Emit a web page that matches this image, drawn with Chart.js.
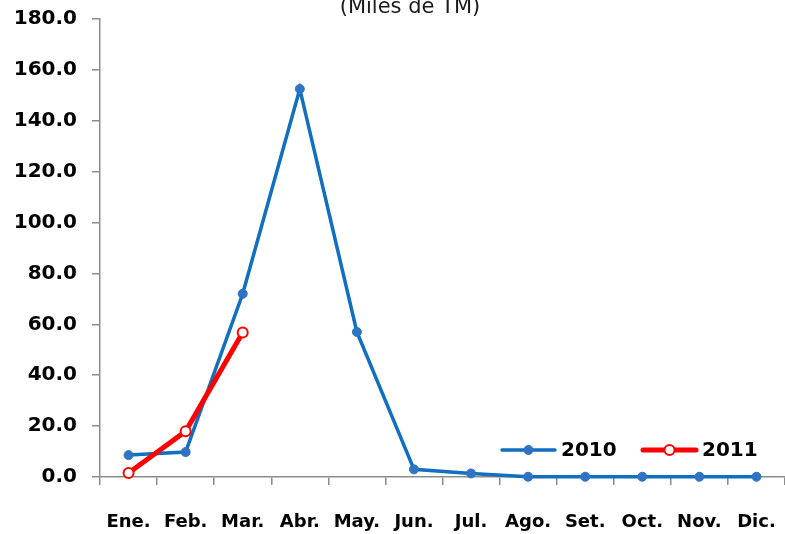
<!DOCTYPE html>
<html>
<head>
<meta charset="utf-8">
<script src="https://cdn.jsdelivr.net/npm/chart.js@4"></script>
<style>
  html, body { margin: 0; padding: 0; background: #ffffff; overflow: hidden; }
  #wrap { position: relative; width: 785px; height: 534px; overflow: hidden; }
  #c { position: absolute; left: 0; top: 0; }
</style>
</head>
<body>
<div id="wrap"><canvas id="c" width="792" height="534"></canvas></div>
<script>
const categories = ['Ene.', 'Feb.', 'Mar.', 'Abr.', 'May.', 'Jun.', 'Jul.', 'Ago.', 'Set.', 'Oct.', 'Nov.', 'Dic.'];
const series2010 = [8.6, 9.8, 72.0, 152.5, 57.0, 3.0, 1.4, 0.1, 0.1, 0.1, 0.1, 0.1];
const series2011 = [1.6, 18.0, 56.8];
const seriesNames = ['2010', '2011'];
const yTicks = [0, 20, 40, 60, 80, 100, 120, 140, 160, 180];
const titleText = '(Miles de TM)';

const BLUE = '#0F6FC0';
const BLUE_PT = '#2F74C2';
const RED = '#FF0000';
const AXIS = '#8C8C8C';
const FONT = "'DejaVu Sans', sans-serif";

const overlay = {
  id: 'overlay',
  afterDraw(chart) {
    const ctx = chart.ctx;
    ctx.save();
    ctx.fillStyle = '#1a1a1a';
    ctx.font = "21px " + FONT;
    ctx.textAlign = 'center';
    ctx.textBaseline = 'alphabetic';
    ctx.fillText(titleText, 410, 13);

    const y = 450;
    const items = [
      { ds: chart.data.datasets[1], x0: 502 },
      { ds: chart.data.datasets[0], x0: 643 }
    ];
    items.forEach(it => {
      const ds = it.ds;
      ctx.strokeStyle = ds.borderColor;
      ctx.lineWidth = ds.borderWidth;
      ctx.lineCap = 'round';
      ctx.beginPath();
      ctx.moveTo(it.x0, y);
      ctx.lineTo(it.x0 + 53, y);
      ctx.stroke();
      ctx.beginPath();
      ctx.arc(it.x0 + 26.5, y, ds.pointRadius, 0, Math.PI * 2);
      ctx.fillStyle = ds.pointBackgroundColor;
      ctx.fill();
      ctx.lineWidth = ds.pointBorderWidth;
      ctx.strokeStyle = ds.pointBorderColor;
      ctx.stroke();
      ctx.fillStyle = '#000000';
      ctx.font = "bold 20px " + FONT;
      ctx.textAlign = 'left';
      ctx.textBaseline = 'middle';
      ctx.fillText(ds.label, it.x0 + 59, y + 1);
    });
    ctx.restore();
  }
};

new Chart(document.getElementById('c'), {
  type: 'line',
  data: {
    labels: categories,
    datasets: [
      {
        label: seriesNames[1],
        data: series2011,
        borderColor: RED,
        borderWidth: 5,
        pointRadius: 5,
        pointBackgroundColor: '#ffffff',
        pointBorderColor: RED,
        pointBorderWidth: 2,
        tension: 0,
        clip: false,
        order: 0
      },
      {
        label: seriesNames[0],
        data: series2010,
        borderColor: BLUE,
        borderWidth: 3.5,
        pointRadius: 4.5,
        pointBackgroundColor: BLUE_PT,
        pointBorderColor: BLUE_PT,
        pointBorderWidth: 1,
        tension: 0,
        clip: false,
        order: 1
      }
    ]
  },
  options: {
    responsive: false,
    animation: false,
    devicePixelRatio: 1,
    layout: { padding: { left: 0, right: 0, top: 19, bottom: 0 } },
    plugins: {
      legend: { display: false },
      title: { display: false },
      tooltip: { enabled: false }
    },
    scales: {
      x: {
        offset: true,
        grid: {
          offset: true,
          drawOnChartArea: false,
          drawTicks: true,
          tickLength: 8,
          color: AXIS,
          lineWidth: 1.5
        },
        border: { color: AXIS, width: 1.5 },
        ticks: {
          color: '#000000',
          font: { family: FONT, size: 18, weight: 'bold' },
          padding: 27,
          maxRotation: 0,
          autoSkip: false
        },
        afterFit(scale) { scale.height = 57; scale.paddingLeft = 0; scale.paddingRight = 0; }
      },
      y: {
        min: 0,
        max: 180,
        afterBuildTicks(scale) { scale.ticks = yTicks.map(v => ({ value: v })); },
        grid: {
          drawOnChartArea: false,
          drawTicks: true,
          tickLength: 8,
          color: AXIS,
          lineWidth: 1.5
        },
        border: { color: AXIS, width: 1.5 },
        ticks: {
          color: '#000000',
          font: { family: FONT, size: 20, weight: 'bold' },
          padding: 15,
          callback: v => Number(v).toFixed(1)
        },
        afterFit(scale) { scale.width = 100; scale.paddingTop = 0; scale.paddingBottom = 0; }
      }
    }
  },
  plugins: [overlay]
});
</script>
</body>
</html>
